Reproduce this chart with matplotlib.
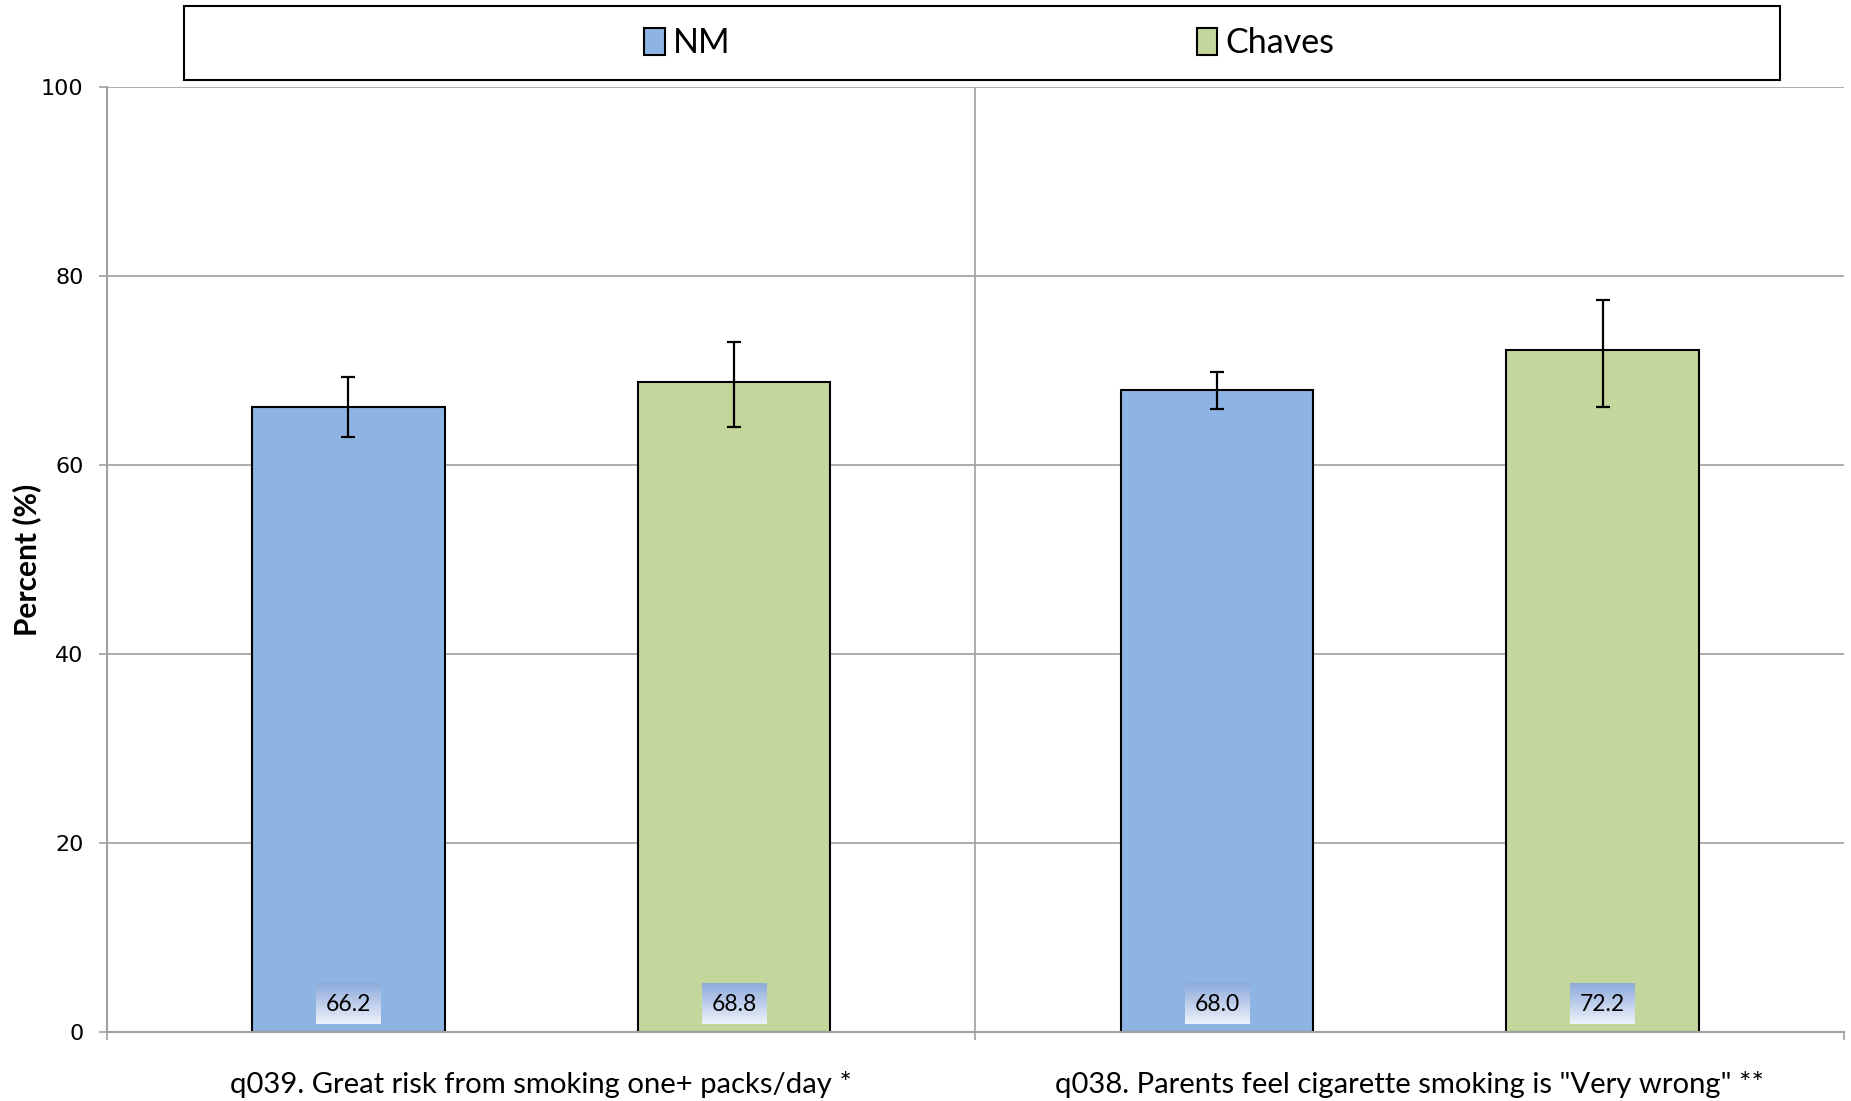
import numpy as np
import matplotlib

matplotlib.use("Agg")
import matplotlib.pyplot as plt  # noqa: E402
from matplotlib.patches import Rectangle, Patch  # noqa: E402

categories = ["q039. Great risk from smoking one+ packs/day *",
              "q038. Parents feel cigarette smoking is \"Very wrong\" **"]
series = ["NM", "Chaves"]
values = {
    "NM": [66.2, 68.0],
    "Chaves": [68.8, 72.2],
}
ci_low = {
    "NM": [63.0, 66.0],
    "Chaves": [64.1, 66.2],
}
ci_high = {
    "NM": [69.3, 69.9],
    "Chaves": [73.0, 77.5],
}
yticks = [0, 20, 40, 60, 80, 100]

COLORS = {"NM": "#8EB4E3", "Chaves": "#C3D69B"}
GRID = "#A0A0A0"
FONT = "Lato"

fig = plt.figure(figsize=(18.51, 11.01), dpi=100)
ax = fig.add_axes([0.0578, 0.0627, 0.9384, 0.8579])

x = np.arange(len(categories))
w = 0.222
offsets = [-0.222, 0.222]
grad = np.linspace(0, 1, 64).reshape(-1, 1)
grad_cmap = matplotlib.colors.LinearSegmentedColormap.from_list(
    "lbl", ["#EEF2FA", "#8EAADB"])

for s, off in zip(series, offsets):
    vals = np.array(values[s])
    lo = vals - np.array(ci_low[s])
    hi = np.array(ci_high[s]) - vals
    ax.bar(x + off, vals, w, color=COLORS[s], edgecolor="black",
           linewidth=1.5, zorder=2)
    ax.errorbar(x + off, vals, yerr=[lo, hi], fmt="none", ecolor="black",
                elinewidth=1.6, capsize=5, capthick=1.6, zorder=3)
    for xi, v in zip(x + off, vals):
        ax.imshow(grad, cmap=grad_cmap, aspect="auto", origin="lower",
                  extent=(xi - 0.037, xi + 0.037, 0.8, 5.1), zorder=4)
        ax.text(xi, 2.9, f"{v:.1f}", ha="center", va="center",
                fontsize=16.5, family=FONT, color="black", zorder=5)

ax.set_xlim(-0.5, len(categories) - 0.5)
ax.set_ylim(0, 100)
ax.set_yticks(yticks)
ax.set_yticklabels([str(t) for t in yticks], fontsize=16, family="DejaVu Sans")
ax.tick_params(axis="y", length=6, width=1.2, color=GRID, pad=11)

ax.set_xticks(np.arange(-0.5, len(categories)), minor=False)
ax.set_xticklabels([])
ax.set_xticks(x, minor=True)
ax.set_xticklabels(categories, minor=True, fontsize=21.1, family=FONT)
ax.tick_params(axis="x", which="major", length=6, width=1.2, color=GRID)
ax.tick_params(axis="x", which="minor", length=0, pad=28)

ax.grid(axis="y", color=GRID, linewidth=1.2, zorder=0)
for b in np.arange(0.5, len(categories) - 0.5):
    ax.axvline(b, color=GRID, linewidth=1.2, zorder=0)
ax.set_axisbelow(True)

for side in ("top", "right"):
    ax.spines[side].set_visible(False)
for side in ("left", "bottom"):
    ax.spines[side].set_color(GRID)
    ax.spines[side].set_linewidth(1.5)

ax.set_ylabel("Percent (%)", fontsize=21.5, family=FONT, fontweight="bold")
ax.yaxis.set_label_coords(-0.0378, 0.5)

# legend box
fig.patches.append(Rectangle((0.0994, 0.9273), 0.8623, 0.0672,
                             transform=fig.transFigure, facecolor="white",
                             edgecolor="black", linewidth=1.5))
handles = [Patch(facecolor=COLORS[s], edgecolor="black", linewidth=1.5)
           for s in series]
fig.legend(handles, series, loc="center", bbox_to_anchor=(0.5346, 0.961),
           ncol=2, frameon=False, prop={"family": FONT, "size": 24.5},
           handlelength=0.6, handleheight=0.85, handletextpad=0.25,
           columnspacing=13.7)

fig.savefig("out.png", dpi=100)
